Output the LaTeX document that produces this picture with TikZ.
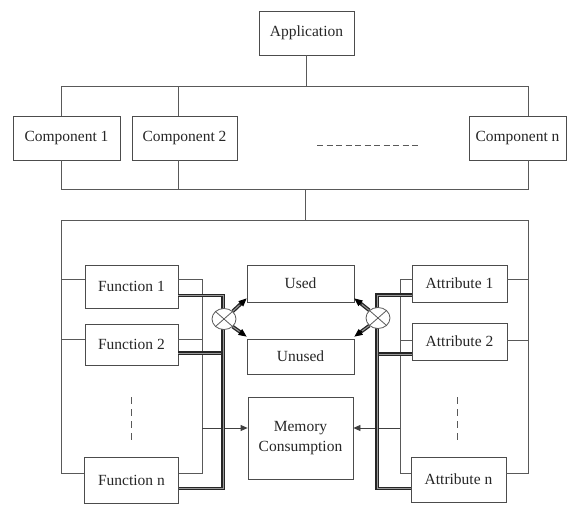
\documentclass[tikz,border=0pt]{standalone}
\usepackage{fontspec}
\setmainfont{Liberation Serif}
\usetikzlibrary{arrows.meta,calc,shapes.geometric}
\begin{document}
\begin{tikzpicture}[x=1pt,y=-1pt,
  box/.style={draw=black!70, line width=0.8pt, rectangle, inner sep=0pt,
    font=\fontsize{15.5}{20}\selectfont, text=black!85, align=center},
  thinline/.style={draw=black!65, line width=0.8pt},
  heavy/.style={draw=black!85, line width=1.3pt, double=black!40, double distance=1pt},
  tipline/.style={-{Triangle[length=8pt,width=7pt]}, draw=black, line width=0.9pt},
  smalltip/.style={-{Triangle[length=7pt,width=6pt]}, draw=black!75, line width=0.8pt},
  xcirc/.style={ellipse, draw=black!65, line width=0.8pt, fill=white, minimum width=24pt, minimum height=21pt, inner sep=0pt}]
\useasboundingbox (0,0) rectangle (574,506);

% ---- top part
\node[box, minimum width=95pt, minimum height=44pt] (app) at (306.5,33) {Application};
\node[box, minimum width=107pt, minimum height=44pt] (c1) at (66.5,138) {Component 1};
\node[box, minimum width=105pt, minimum height=44pt] (c2) at (184.5,138) {Component 2};
\node[box, minimum width=97pt, minimum height=44pt] (cn) at (517.5,138) {Component n};

\coordinate (t1) at (61,86);
\coordinate (t2) at (178,86);
\coordinate (tn) at (528,86);
\draw[thinline] (app.south) -- (app.south |- t1);
\draw[thinline] (t1) -- (tn);
\draw[thinline] (t1) -- (t1 |- c1.north);
\draw[thinline] (t2) -- (t2 |- c2.north);
\draw[thinline] (tn) -- (tn |- cn.north);

\coordinate (b1) at (61,189);
\coordinate (b2) at (178,189);
\coordinate (bn) at (528,189);
\coordinate (bm) at (305,189);
\draw[thinline] (b1 |- c1.south) -- (b1) -- (bn) -- (bn |- cn.south);
\draw[thinline] (b2 |- c2.south) -- (b2);
\draw[thinline, dash pattern=on 6pt off 3.5pt] (317,145) -- (420,145);

\coordinate (L1) at (61,220);
\coordinate (Ln) at (528,220);
\coordinate (Lm) at (305,220);
\coordinate (L1b) at (61,473);
\coordinate (Lnb) at (528,473);
\draw[thinline] (bm) -- (Lm);
\draw[thinline] (L1) -- (Ln);

% ---- middle boxes
\node[box, minimum width=107pt, minimum height=37pt] (used) at (300.5,283.5) {Used};
\node[box, minimum width=107pt, minimum height=35pt] (unused) at (300.5,356.5) {Unused};
\node[box, minimum width=105pt, minimum height=82pt] (mem) at (300.5,438) {Memory\\Consumption};

% ---- functions
\node[box, minimum width=93pt, minimum height=43pt] (f1) at (131.5,286.5) {Function 1};
\node[box, minimum width=93pt, minimum height=41pt] (f2) at (131.5,344.5) {Function 2};
\node[box, minimum width=94pt, minimum height=46pt] (fn) at (131.5,480) {Function n};
\draw[thinline, dash pattern=on 7pt off 5pt] (131.5,397) -- (131.5,443);

\draw[thinline] (L1) -- (L1b) -- (fn.west |- L1b);
\draw[thinline] (L1 |- 0,279) -- (f1.west |- 0,279);
\draw[thinline] (L1 |- 0,339) -- (f2.west |- 0,339);

\coordinate (lv) at (202,279);
\coordinate (lvb) at (202,473);
\coordinate (lvm) at (202,428);
\draw[thinline] (f1.east |- lv) -- (lv) -- (lvb) -- (fn.east |- lvb);
\draw[thinline] (f2.east |- 0,339) -- (lv |- 0,339);
\draw[smalltip] (lvm) -- (mem.west |- lvm);

\coordinate (hv) at (223,295.5);
\coordinate (hvb) at (223,488.5);
\draw[heavy] (f2.east |- 0,353) -- (hv |- 0,353);
\draw[heavy] (f1.east |- hv) -- (hv) -- (hvb) -- (fn.east |- hvb);

\node[xcirc] (xl) at (224,319) {};
\draw[thinline] (xl.north east) -- (xl.south west) (xl.north west) -- (xl.south east);
\draw[heavy, shorten >=7pt] (xl.north east) -- ([yshift=4pt]used.south west);
\draw[tipline] ($(xl.north east)!0.5!([yshift=4pt]used.south west)$) -- ([yshift=4pt]used.south west);
\draw[heavy, shorten >=7pt] (xl.south east) -- ([yshift=2pt]unused.north west);
\draw[tipline] ($(xl.south east)!0.5!([yshift=2pt]unused.north west)$) -- ([yshift=2pt]unused.north west);

% ---- attributes
\node[box, minimum width=95pt, minimum height=37pt] (a1) at (459.5,283.5) {Attribute 1};
\node[box, minimum width=95pt, minimum height=37pt] (a2) at (459.5,341.5) {Attribute 2};
\node[box, minimum width=95pt, minimum height=45pt] (an) at (458.5,479.5) {Attribute n};
\draw[thinline, dash pattern=on 7pt off 5pt] (457,397) -- (457,443);

\draw[thinline] (Ln) -- (Lnb) -- (an.east |- Lnb);
\draw[thinline] (Ln |- 0,279) -- (a1.east |- 0,279);
\draw[thinline] (Ln |- 0,340) -- (a2.east |- 0,340);

\coordinate (rv) at (400,279);
\coordinate (rvb) at (400,473);
\coordinate (rvm) at (400,428);
\draw[thinline] (a1.west |- rv) -- (rv) -- (rvb) -- (an.west |- rvb);
\draw[thinline] (a2.west |- 0,340) -- (rv |- 0,340);
\draw[smalltip] (rvm) -- (mem.east |- rvm);

\coordinate (gv) at (377,295);
\coordinate (gvb) at (377,488.5);
\draw[heavy] (a2.west |- 0,354) -- (gv |- 0,354);
\draw[heavy] (a1.west |- gv) -- (gv) -- (gvb) -- (an.west |- gvb);

\node[xcirc] (xr) at (378,318) {};
\draw[thinline] (xr.north east) -- (xr.south west) (xr.north west) -- (xr.south east);
\draw[heavy, shorten >=7pt] (xr.north west) -- ([yshift=4pt]used.south east);
\draw[tipline] ($(xr.north west)!0.5!([yshift=4pt]used.south east)$) -- ([yshift=4pt]used.south east);
\draw[heavy, shorten >=7pt] (xr.south west) -- ([yshift=2pt]unused.north east);
\draw[tipline] ($(xr.south west)!0.5!([yshift=2pt]unused.north east)$) -- ([yshift=2pt]unused.north east);
\end{tikzpicture}
\end{document}
